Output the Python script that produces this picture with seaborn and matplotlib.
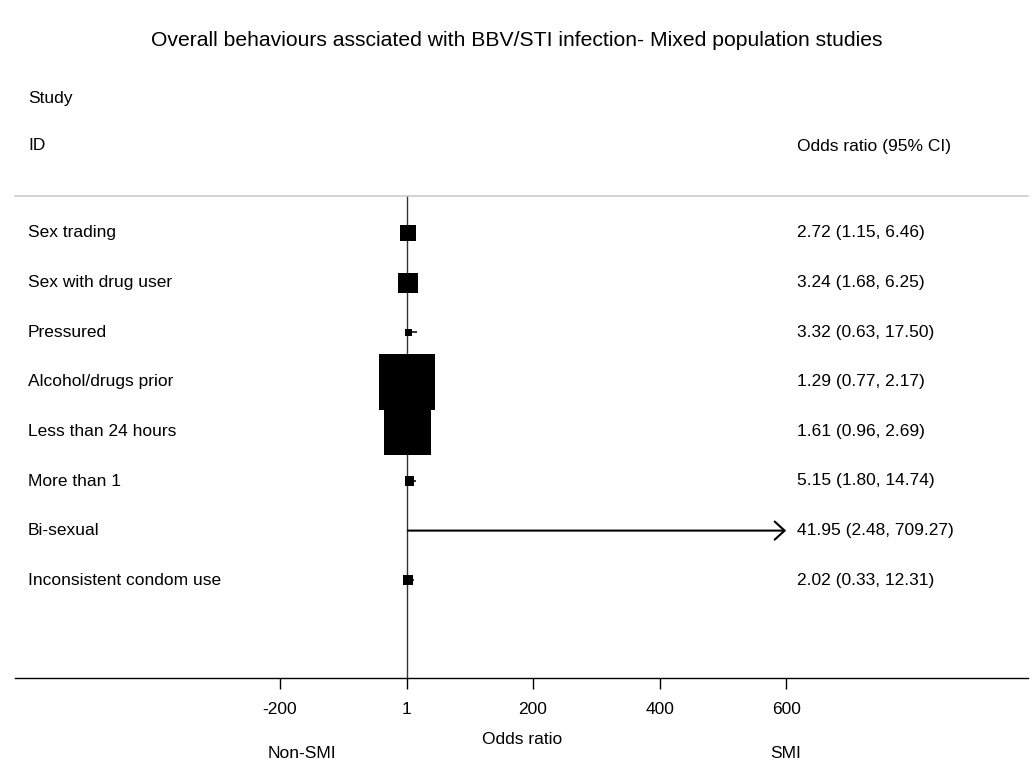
import matplotlib
matplotlib.use("Agg")
import matplotlib.pyplot as plt
import seaborn as sns
import pandas as pd

# Forest plot data (odds ratios, 95% CI, weights in %)
studies = ['Sex trading', 'Sex with drug user', 'Pressured', 'Alcohol/drugs prior',
           'Less than 24 hours', 'More than 1', 'Bi-sexual', 'Inconsistent condom use']
odds = [2.72, 3.24, 3.32, 1.29, 1.61, 5.15, 41.95, 2.02]
ci_low = [1.15, 1.68, 0.63, 0.77, 0.96, 1.80, 2.48, 0.33]
ci_high = [6.46, 6.25, 17.50, 2.17, 2.69, 14.74, 709.27, 12.31]
weights = [4.3, 6.4, 0.8, 50.3, 35.4, 1.3, 0.05, 1.6]

tick_vals = [-200, 1, 200, 400, 600]
tick_labels = ['-200', '1', '200', '400', '600']

title = 'Overall behaviours assciated with BBV/STI infection- Mixed population studies'

df = pd.DataFrame({'study': studies, 'or': odds, 'lo': ci_low, 'hi': ci_high, 'w': weights})
df['row'] = range(len(df))

sns.set_style('white')
plt.rcParams['font.family'] = ['Liberation Sans', 'DejaVu Sans']
plt.rcParams['text.color'] = 'black'

W, H = 1032, 762
fig = plt.figure(figsize=(W / 100, H / 100), dpi=100)
ax = fig.add_axes([15 / W, (H - 678) / H, 1013 / W, (678 - 196) / H])

xmax = max(tick_vals)

# null line
ax.axvline(1, color='#333333', lw=1.0, zorder=1)

# confidence intervals (clipped at the last tick, arrow when clipped)
for _, r in df.iterrows():
    if r['hi'] > xmax:
        ax.annotate('', xy=(xmax, r['row']), xytext=(r['lo'], r['row']),
                    arrowprops=dict(arrowstyle='->,head_length=0.55,head_width=0.5',
                                    color='black', lw=1.5, shrinkA=0, shrinkB=0,
                                    mutation_scale=13))
    else:
        ax.hlines(r['row'], r['lo'], r['hi'], color='black', lw=1.1, zorder=2)

# weighted squares
wmax = max(weights)
sns.scatterplot(data=df, x='or', y='row', size='w', sizes=(0, 32.4 * wmax),
                size_norm=(0, wmax), marker='s', color='black', linewidth=0,
                legend=False, ax=ax, zorder=3)

ax.set_xlim(1 - 392 / 0.633, 1 + 621 / 0.633)
ax.set_ylim((678 - 233) / 49.6, (196 - 233) / 49.6)

ax.set_xticks(tick_vals)
ax.set_xticklabels(tick_labels)
ax.set_yticks([])
ax.set_xlabel('')
ax.set_ylabel('')
ax.tick_params(axis='x', direction='out', length=8, width=1.0, pad=9,
               labelsize=12.5, colors='black', bottom=True)

for s in ['left', 'right']:
    ax.spines[s].set_visible(False)
ax.spines['bottom'].set_color('black')
ax.spines['bottom'].set_linewidth(1.0)
ax.spines['top'].set_color('#c8c8c8')
ax.spines['top'].set_linewidth(1.1)

# row labels and estimates
lab_x = (28 - 15) / 1013
est_x = (797 - 15) / 1013
for _, r in df.iterrows():
    ax.text(lab_x, r['row'], r['study'], transform=ax.get_yaxis_transform(),
            ha='left', va='center', fontsize=12.5)
    ax.text(est_x, r['row'], f"{r['or']:.2f} ({r['lo']:.2f}, {r['hi']:.2f})",
            transform=ax.get_yaxis_transform(), ha='left', va='center', fontsize=12.5)

# headers and titles
fig.text(517 / W, 1 - 40 / H, title, ha='center', va='center', fontsize=15.2)
fig.text(28 / W, 1 - 98 / H, 'Study', ha='left', va='center', fontsize=12.5)
fig.text(28 / W, 1 - 146 / H, 'ID', ha='left', va='center', fontsize=12.5)
fig.text(797 / W, 1 - 146 / H, 'Odds ratio (95% CI)', ha='left', va='center', fontsize=12.5)
fig.text(522 / W, 1 - 740 / H, 'Odds ratio', ha='center', va='center', fontsize=12.5)
fig.text(302 / W, 1 - 753 / H, 'Non-SMI', ha='center', va='center', fontsize=12.5)
fig.text(786 / W, 1 - 753 / H, 'SMI', ha='center', va='center', fontsize=12.5)

fig.savefig('out.png', dpi=100)
